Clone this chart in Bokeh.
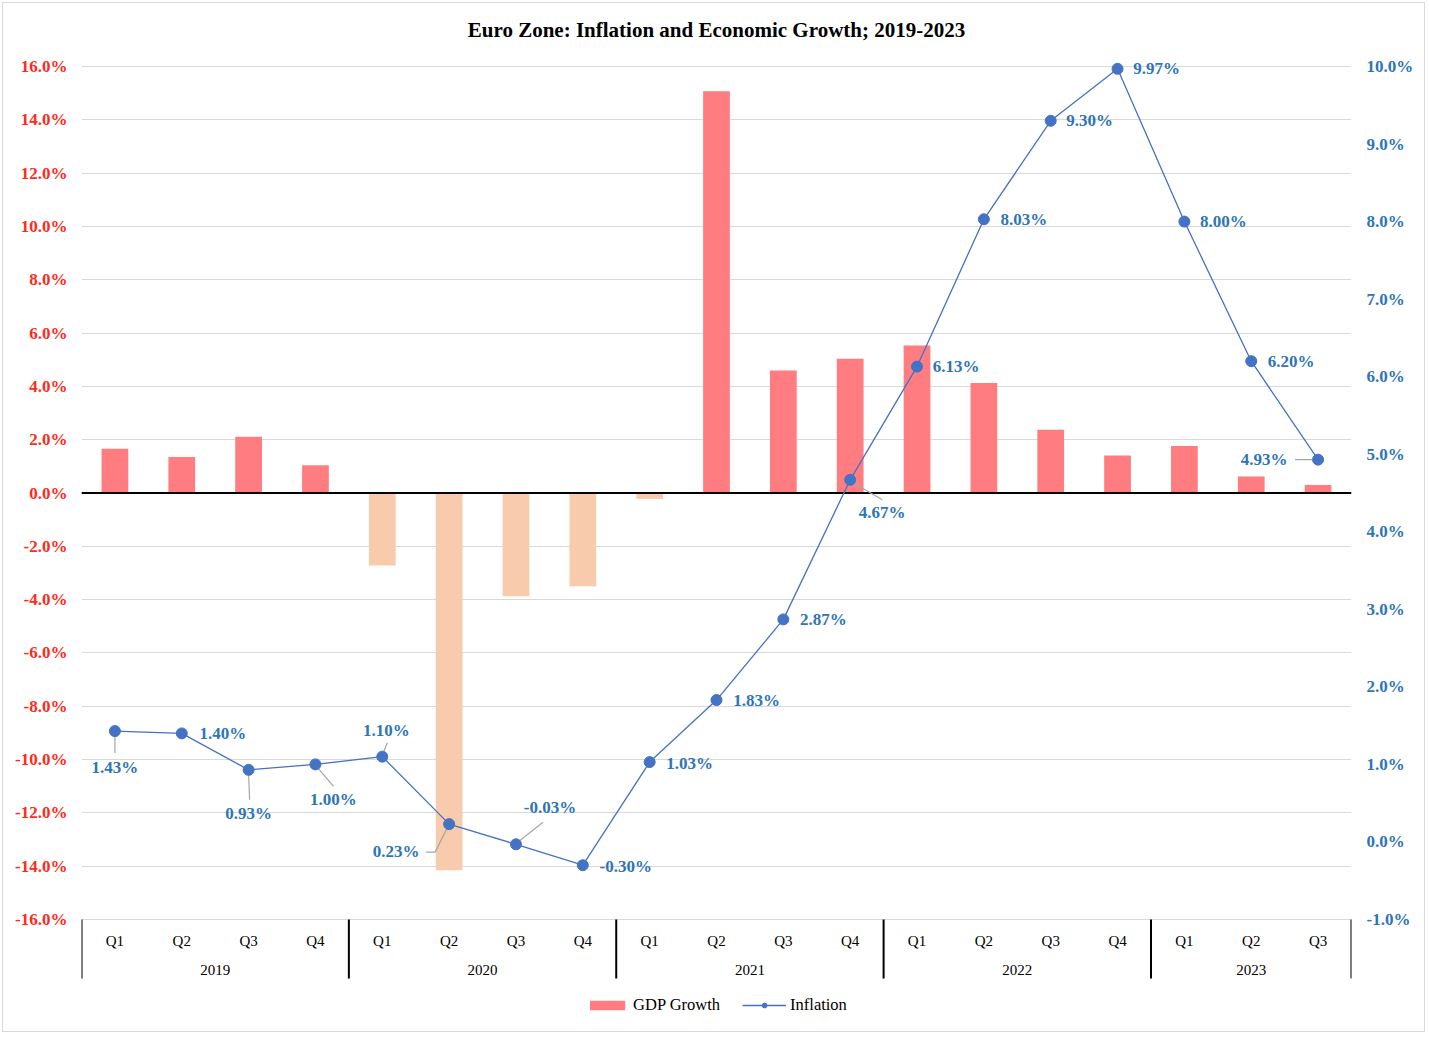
from bokeh.plotting import figure
from bokeh.models import (Range1d, LinearAxis, FixedTicker, PrintfTickFormatter,
                          ColumnDataSource, Legend, LegendItem)
from bokeh.core.properties import value
from bokeh.embed import file_html
from bokeh.resources import INLINE

# ---------------- data ----------------
years = ["2019"] * 4 + ["2020"] * 4 + ["2021"] * 4 + ["2022"] * 4 + ["2023"] * 3
quarters = ["Q1", "Q2", "Q3", "Q4"] * 4 + ["Q1", "Q2", "Q3"]
gdp_growth = [1.66, 1.35, 2.11, 1.04,
              -2.72, -14.15, -3.87, -3.50,
              -0.22, 15.07, 4.60, 5.04,
              5.53, 4.13, 2.37, 1.41,
              1.76, 0.62, 0.30]
inflation = [1.43, 1.40, 0.93, 1.00,
             1.10, 0.23, -0.03, -0.30,
             1.03, 1.83, 2.87, 4.67,
             6.13, 8.03, 9.30, 9.97,
             8.00, 6.20, 4.93]
gdp_ticks = list(range(-16, 17, 2))
inflation_ticks = list(range(-1, 11))

# ---------------- style / layout ----------------
SERIF = "Liberation Serif"
RED = "#FF2A1A"
BLUE_TXT = "#2E75B6"
BLUE = "#4472C4"
POS_COL = "#FF7C80"
NEG_COL = "#F8CBAD"
GRID = "#D9D9D9"

OFF = 3                # canvas origin on the page (margin + border)
W, H = 1423, 1030
B_LEFT, B_RIGHT = 81 - OFF, W - (1351 - OFF)
TOP_TICK_Y = 66 - OFF  # px from top of canvas to the top tick
AXIS_PX = 853          # pixels between top and bottom tick
EXTRA_TOP = 20         # room above the top tick
EXTRA_PX = 106         # room below the bottom tick (category axis + legend)
B_TOP = TOP_TICK_Y - EXTRA_TOP
B_BOTTOM = H - B_TOP - EXTRA_TOP - AXIS_PX - EXTRA_PX

n = len(quarters)
g_lo, g_hi = gdp_ticks[0], gdp_ticks[-1]
i_lo, i_hi = inflation_ticks[0], inflation_ticks[-1]
PX_G = AXIS_PX / (g_hi - g_lo)      # px per gdp unit
PX_I = AXIS_PX / (i_hi - i_lo)      # px per inflation unit
PX_X = (W - B_LEFT - B_RIGHT) / n   # px per category

p = figure(width=W, height=H,
           x_range=Range1d(0, n),
           y_range=Range1d(g_lo - EXTRA_PX / PX_G, g_hi + EXTRA_TOP / PX_G),
           x_axis_type=None,
           output_backend="svg", toolbar_location=None,
           min_border_left=B_LEFT, min_border_right=B_RIGHT,
           min_border_top=B_TOP, min_border_bottom=B_BOTTOM)
p.styles = {"border": "1px solid #D9D9D9", "margin": "2px"}
p.extra_y_ranges = {"inf": Range1d(i_lo - EXTRA_PX / PX_I, i_hi + EXTRA_TOP / PX_I)}
p.outline_line_color = None
p.background_fill_color = "white"
p.border_fill_color = "white"

p.title.text = "Euro Zone: Inflation and Economic Growth; 2019-2023"
p.title.align = "center"
p.title.text_font = SERIF
p.title.text_font_size = "21px"
p.title.text_font_style = "bold"
p.title.text_color = "black"

# grid
p.xgrid.visible = False
p.ygrid.ticker = FixedTicker(ticks=gdp_ticks)
p.ygrid.grid_line_color = GRID
p.ygrid.grid_line_width = 1

# left axis
ya = p.yaxis[0]
ya.ticker = FixedTicker(ticks=gdp_ticks)
ya.formatter = PrintfTickFormatter(format="%.1f%%")
ya.axis_line_color = None
ya.major_tick_line_color = None
ya.minor_tick_line_color = None
ya.major_label_standoff = 8
ya.major_label_text_font = SERIF
ya.major_label_text_font_size = "17px"
ya.major_label_text_font_style = "bold"
ya.major_label_text_color = RED

# right axis
ra = LinearAxis(y_range_name="inf", ticker=FixedTicker(ticks=inflation_ticks),
                formatter=PrintfTickFormatter(format="%.1f%%"))
ra.axis_line_color = None
ra.major_tick_line_color = None
ra.minor_tick_line_color = None
ra.major_label_standoff = 9
ra.major_label_text_font = SERIF
ra.major_label_text_font_size = "17px"
ra.major_label_text_font_style = "bold"
ra.major_label_text_color = BLUE_TXT
p.add_layout(ra, "right")

# ---------------- bars ----------------
xc = [i + 0.5 for i in range(n)]
bar_src = ColumnDataSource(dict(x=xc, top=gdp_growth,
                                color=[POS_COL if v >= 0 else NEG_COL for v in gdp_growth]))
bars = p.vbar(x="x", top="top", bottom=0, width=0.4, source=bar_src,
              fill_color="color", line_color=None)

# zero line
p.segment(x0=[0], x1=[n], y0=[0], y1=[0], line_color="black", line_width=2)

# ---------------- category axis ----------------
q_y = g_lo - 21 / PX_G
y_y = g_lo - 50 / PX_G
sep_y = g_lo - 59 / PX_G
p.text(x=xc, y=[q_y] * n, text=quarters, text_align="center", text_baseline="middle",
       text_font=value(SERIF), text_font_size="15px", text_color="black")
year_names = []
year_start = []
year_end = []
for i, yv in enumerate(years):
    if not year_names or year_names[-1] != yv:
        year_names.append(yv)
        year_start.append(i)
        year_end.append(i + 1)
    else:
        year_end[-1] = i + 1
p.text(x=[(a + b) / 2 for a, b in zip(year_start, year_end)], y=[y_y] * len(year_names),
       text=year_names, text_align="center", text_baseline="middle",
       text_font=value(SERIF), text_font_size="15px", text_color="black")
bounds = year_start + [year_end[-1]]
p.segment(x0=bounds, x1=bounds, y0=[g_lo] * len(bounds), y1=[sep_y] * len(bounds),
          line_color="black", line_width=2)

# ---------------- inflation ----------------
# label offsets (px, screen: +y is down)
label_dx = [0, 41, 0, 18, 4, -53, 34, 43, 40, 40, 40, 32, 39, 40, 39, 39, 39, 40, -54]
label_dy = [36, 0, 44, 35, -26, 27, -37, 1, 1, 0, 0, 33, 0, 0, 0, 0, 0, 0, 0]
leaders = {0: [(0, 4), (0, 22)], 2: [(0, 4), (1, 30)], 3: [(2, 3), (18, 22)],
           4: [(1, -4), (5, -14)], 5: [(-2, 4), (-14, 28), (-23, 28)],
           6: [(3, -3), (27, -22)], 11: [(3, 3), (32, 20)], 18: [(-23, 0), (-6, 0)]}
lx, ly = [], []
for k, pts in leaders.items():
    lx.append([xc[k] + dx / PX_X for dx, dy in pts])
    ly.append([inflation[k] - dy / PX_I for dx, dy in pts])
p.multi_line(xs=lx, ys=ly, y_range_name="inf", line_color="#A6A6A6", line_width=1.2)

line = p.line(xc, inflation, y_range_name="inf", line_color=BLUE, line_width=1.3)
dots = p.scatter(xc, inflation, y_range_name="inf", size=11, marker="circle",
                 fill_color=BLUE, line_color=BLUE)

lab_src = ColumnDataSource(dict(x=xc, y=inflation, dx=label_dx, dy=label_dy,
                                t=["%.2f%%" % v for v in inflation]))
p.text(x="x", y="y", text="t", x_offset="dx", y_offset="dy", source=lab_src,
       y_range_name="inf", text_align="center", text_baseline="middle",
       text_font=value(SERIF), text_font_size="17px", text_font_style="bold",
       text_color=BLUE_TXT)

# ---------------- legend ----------------
legend = Legend(items=[LegendItem(label="GDP Growth", renderers=[bars], index=0),
                       LegendItem(label="Inflation", renderers=[line, dots])],
                orientation="horizontal", location="bottom_center",
                border_line_color=None, background_fill_alpha=0,
                label_text_font=SERIF, label_text_font_size="16.5px",
                label_text_color="black",
                glyph_width=44, glyph_height=12, spacing=22, padding=2, margin=10,
                label_standoff=4)
p.add_layout(legend)

open("out.html", "w").write(file_html(p, INLINE))
